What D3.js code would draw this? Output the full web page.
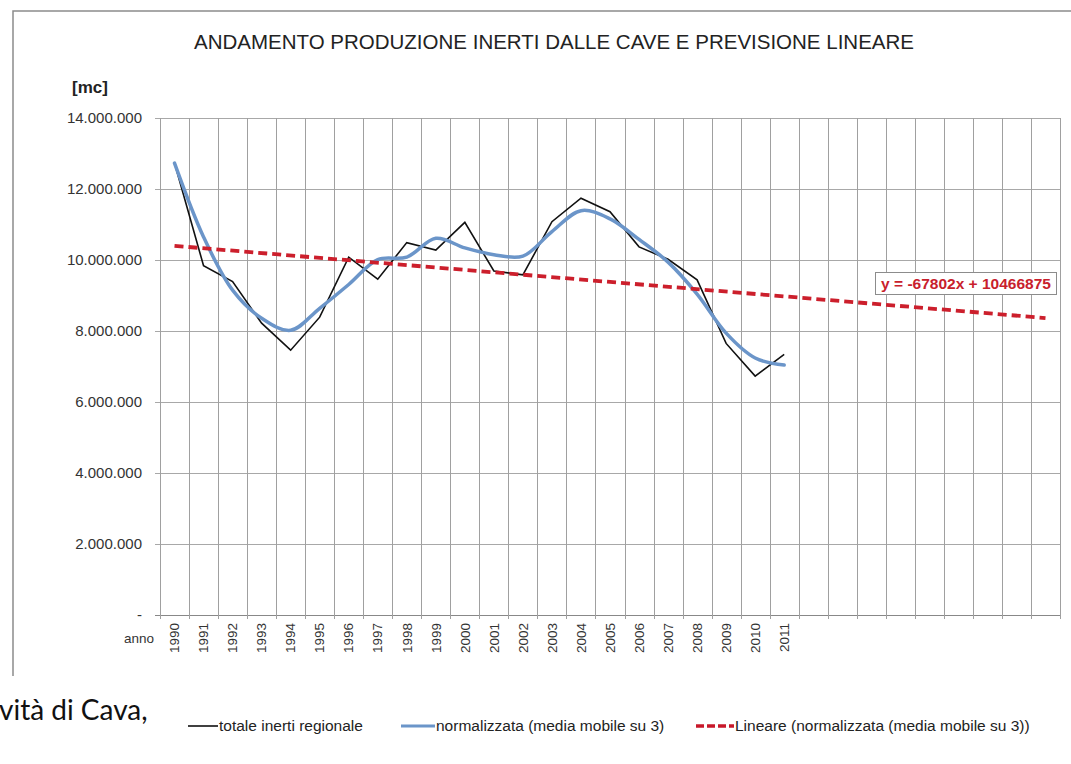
<!DOCTYPE html>
<html>
<head>
<meta charset="utf-8">
<script src="https://cdn.jsdelivr.net/npm/d3@7"></script>
<style>
  body { margin: 0; background: #fff; }
  svg { display: block; font-family: "Liberation Sans", Arial, sans-serif; }
</style>
</head>
<body>
<div id="root"></div>
<script>
// anni sull'asse (1990-2020), etichette solo fino al 2011
var years = d3.range(1990, 2021);
var yearLabels = ["1990","1991","1992","1993","1994","1995","1996","1997","1998","1999","2000",
  "2001","2002","2003","2004","2005","2006","2007","2008","2009","2010","2011"];

// totale inerti regionale [mc]
var totale = [12730000, 9840000, 9390000, 8220000, 7460000, 8390000, 10080000, 9460000,
  10490000, 10280000, 11060000, 9690000, 9580000, 11080000, 11740000, 11360000,
  10370000, 10020000, 9440000, 7650000, 6730000, 7340000];

// normalizzata (media mobile su 3)
var normalizzata = [12730000, 10650000, 9150000, 8360000, 8020000, 8640000, 9310000, 10010000,
  10080000, 10610000, 10340000, 10150000, 10110000, 10800000, 11390000, 11160000,
  10580000, 9940000, 9040000, 7940000, 7240000, 7040000];

// linea di tendenza: estremi 1990 e 2020
var trendYears = [1990, 2020];
var trendValues = [10399073, 8365013];
var trendLabel = "y = -67802x + 10466875";

var yTicks = [0, 2000000, 4000000, 6000000, 8000000, 10000000, 12000000, 14000000];

var W = 1071, H = 764;
var plotL = 160, plotR = 1060, plotT = 118, plotB = 615;

var svg = d3.select("#root")
    .append("svg")
    .attr("width", W)
    .attr("height", H);

var x = d3.scaleBand().domain(years).range([plotL, plotR]).padding(0);
var y = d3.scaleLinear().domain([0, 14000000]).range([plotB, plotT]);

var loc = d3.formatLocale({decimal: ",", thousands: ".", grouping: [3], currency: ["", ""]});
var fmt = loc.format(",");

// cornice del grafico (tagliata in basso e a destra)
svg.append("path")
    .attr("d", "M13,676 L13,11 L1071,11")
    .attr("fill", "none")
    .attr("stroke", "#8c8c8c")
    .attr("stroke-width", 1.5);

// titolo
svg.append("text")
    .attr("x", 554)
    .attr("y", 49)
    .attr("text-anchor", "middle")
    .attr("font-size", 20.5)
    .attr("fill", "#222")
    .text("ANDAMENTO PRODUZIONE INERTI DALLE CAVE E PREVISIONE LINEARE");

svg.append("text")
    .attr("x", 72)
    .attr("y", 93)
    .attr("font-size", 17)
    .attr("font-weight", "bold")
    .attr("fill", "#222")
    .text("[mc]");

// griglia orizzontale
svg.append("g")
    .selectAll("line")
    .data(yTicks)
    .enter()
    .append("line")
    .attr("x1", plotL - 5)
    .attr("x2", plotR)
    .attr("y1", function (d) { return Math.round(y(d)) + 0.5; })
    .attr("y2", function (d) { return Math.round(y(d)) + 0.5; })
    .attr("stroke", function (d) { return d === 0 ? "#888" : "#a8a8a8"; })
    .attr("stroke-width", 1);

// griglia verticale (bordi delle categorie)
var edges = years.map(function (d) { return x(d); }).concat([plotR]);
svg.append("g")
    .selectAll("line")
    .data(edges)
    .enter()
    .append("line")
    .attr("x1", function (d) { return Math.round(d) + 0.5; })
    .attr("x2", function (d) { return Math.round(d) + 0.5; })
    .attr("y1", plotT)
    .attr("y2", plotB + 4)
    .attr("stroke", "#a0a0a0")
    .attr("stroke-width", 1);

// etichette asse y
svg.append("g")
    .selectAll("text")
    .data(yTicks)
    .enter()
    .append("text")
    .attr("x", 142)
    .attr("y", function (d) { return y(d); })
    .attr("dy", "0.35em")
    .attr("text-anchor", "end")
    .attr("font-size", 15)
    .attr("fill", "#333")
    .text(function (d) { return d === 0 ? "-" : fmt(d); });

// etichette asse x
svg.append("g")
    .selectAll("text")
    .data(yearLabels)
    .enter()
    .append("text")
    .attr("transform", function (d) {
        return "translate(" + (x(+d) + x.bandwidth() / 2) + ",623) rotate(-90)";
    })
    .attr("text-anchor", "end")
    .attr("dy", "0.35em")
    .attr("font-size", 13.5)
    .attr("fill", "#333")
    .text(function (d) { return d; });

svg.append("text")
    .attr("x", 124)
    .attr("y", 643)
    .attr("font-size", 13.5)
    .attr("fill", "#333")
    .text("anno");

var cx = function (d, i) { return x(1990 + i) + x.bandwidth() / 2; };

// totale
svg.append("path")
    .datum(totale)
    .attr("fill", "none")
    .attr("stroke", "#111")
    .attr("stroke-width", 1.6)
    .attr("d", d3.line().x(cx).y(function (d) { return y(d); }));

// normalizzata, linea smussata
svg.append("path")
    .datum(normalizzata)
    .attr("fill", "none")
    .attr("stroke", "#6b95c9")
    .attr("stroke-width", 3.5)
    .attr("stroke-linecap", "round")
    .attr("d", d3.line().curve(d3.curveCatmullRom).x(cx).y(function (d) { return y(d); }));

// tendenza lineare
svg.append("path")
    .datum(trendValues)
    .attr("fill", "none")
    .attr("stroke", "#cc1f2c")
    .attr("stroke-width", 3.8)
    .attr("stroke-dasharray", "9,5")
    .attr("d", d3.line()
        .x(function (d, i) { return x(trendYears[i]) + x.bandwidth() / 2; })
        .y(function (d) { return y(d); }));

// etichetta equazione
svg.append("rect")
    .attr("x", 875.5)
    .attr("y", 272.5)
    .attr("width", 181)
    .attr("height", 22)
    .attr("fill", "#fff")
    .attr("stroke", "#8c8c8c")
    .attr("stroke-width", 1);

svg.append("text")
    .attr("x", 966)
    .attr("y", 284)
    .attr("dy", "0.35em")
    .attr("text-anchor", "middle")
    .attr("font-size", 15.5)
    .attr("font-weight", "bold")
    .attr("fill", "#c8202c")
    .text(trendLabel);

// testo del documento sotto al grafico
svg.append("text")
    .attr("x", -1)
    .attr("y", 720)
    .attr("font-family", "Lato, 'Open Sans', sans-serif")
    .attr("font-size", 28)
    .attr("fill", "#111")
    .text("vità di Cava,");

// legenda
var legend = [
    {name: "totale inerti regionale", color: "#111", width: 1.6, dash: null, x0: 188, len: 30},
    {name: "normalizzata (media mobile su 3)", color: "#6b95c9", width: 3, dash: null, x0: 401, len: 34},
    {name: "Lineare (normalizzata (media mobile su 3))", color: "#c8182a", width: 3.5, dash: "8,3", x0: 696, len: 38}
];

var lg = svg.append("g")
    .selectAll("g")
    .data(legend)
    .enter()
    .append("g")
    .attr("transform", function (d) { return "translate(" + d.x0 + ",726)"; });

lg.append("line")
    .attr("x1", 0)
    .attr("x2", function (d) { return d.len; })
    .attr("stroke", function (d) { return d.color; })
    .attr("stroke-width", function (d) { return d.width; })
    .attr("stroke-dasharray", function (d) { return d.dash; });

lg.append("text")
    .attr("x", function (d) { return d.len + 1; })
    .attr("dy", "0.35em")
    .attr("font-size", 15.5)
    .attr("fill", "#222")
    .text(function (d) { return d.name; });
</script>
</body>
</html>
